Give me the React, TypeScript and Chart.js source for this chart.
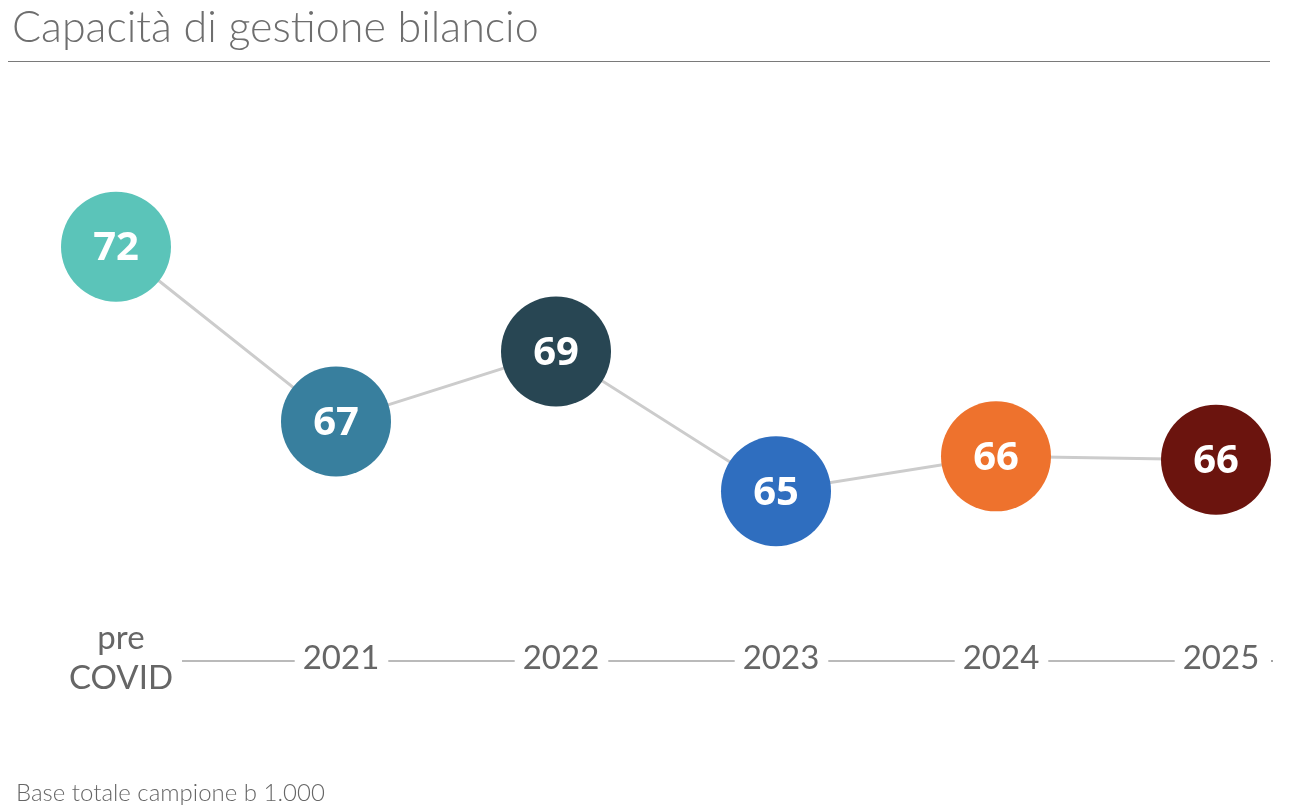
import React, { useEffect, useRef } from "react";
import { Chart, registerables } from "chart.js";

Chart.register(...registerables);

const categories: (string | string[])[] = [["pre", "COVID"], "2021", "2022", "2023", "2024", "2025"];
const values: number[] = [72, 67, 69, 65, 66, 65.9];
const valueLabels: string[] = ["72", "67", "69", "65", "66", "66"];
const pointColors: string[] = ["#5BC4B9", "#387F9E", "#284653", "#2F6EBF", "#EE722D", "#6B140E"];

const TICK_FONT = "33px Lato";
const LABEL_SHIFT = 5;

const axisLinePlugin = {
  id: "axisLine",
  afterDraw(chart: any) {
    const { ctx, chartArea } = chart;
    const xs = chart.scales.x;
    const y = chartArea.bottom + 44;
    ctx.save();
    ctx.font = TICK_FONT;
    const bounds = categories.map((c, i) => {
      const lines = Array.isArray(c) ? c : [c];
      const w = Math.max(...lines.map((l) => ctx.measureText(l).width));
      const px = xs.getPixelForTick(i) + LABEL_SHIFT;
      return [px - w / 2, px + w / 2];
    });
    ctx.strokeStyle = "#A4A4A4";
    ctx.lineWidth = 1.5;
    ctx.beginPath();
    for (let i = 0; i < bounds.length - 1; i++) {
      ctx.moveTo(bounds[i][1] + 9, y);
      ctx.lineTo(bounds[i + 1][0] - 8, y);
    }
    ctx.stroke();
    ctx.fillStyle = "#A4A4A4";
    ctx.fillRect(chartArea.right + 55, y - 1, 2, 2);
    ctx.restore();
  },
};

const valueLabelPlugin = {
  id: "valueLabels",
  afterDatasetsDraw(chart: any) {
    const { ctx } = chart;
    const meta = chart.getDatasetMeta(0);
    ctx.save();
    ctx.fillStyle = "#FFFFFF";
    ctx.font = "700 40px 'Open Sans'";
    ctx.textAlign = "center";
    ctx.textBaseline = "middle";
    meta.data.forEach((el: any, i: number) => {
      ctx.fillText(valueLabels[i], el.x, el.y + 2);
    });
    ctx.restore();
  },
};

export default function App() {
  const ref = useRef<HTMLCanvasElement>(null);
  useEffect(() => {
    if (!ref.current) return;
    const chart = new Chart(ref.current, {
      type: "line",
      data: {
        labels: categories,
        datasets: [
          {
            data: values,
            borderColor: "#CCCCCC",
            borderWidth: 3,
            pointRadius: 55,
            pointHoverRadius: 55,
            pointBackgroundColor: pointColors,
            pointBorderWidth: 0,
            tension: 0,
            clip: false as any,
          },
        ],
      },
      options: {
        animation: false,
        responsive: false,
        maintainAspectRatio: false,
        layout: { padding: { left: 116, right: 98, top: 107, bottom: 71 } },
        plugins: { legend: { display: false }, tooltip: { enabled: false }, title: { display: false } },
        scales: {
          x: {
            offset: false,
            grid: { display: false, drawTicks: false },
            border: { display: false },
            ticks: {
              padding: 21,
              color: "#666666",
              font: { family: "Lato", size: 33, lineHeight: 40 / 33 },
              maxRotation: 0,
              autoSkip: false,
              crossAlign: "center",
              labelOffset: LABEL_SHIFT,
            } as any,
          },
          y: {
            display: false,
            min: 61.4,
            max: 76,
          },
        },
      },
      plugins: [axisLinePlugin, valueLabelPlugin],
    });
    return () => chart.destroy();
  }, []);

  return (
    <div style={{ position: "absolute", left: 0, top: 0, width: 1314, height: 810, background: "#fff" }}>
      <canvas ref={ref} width={1314} height={810} style={{ position: "absolute", left: 0, top: 0 }} />
      <div
        style={{
          position: "absolute",
          left: 12,
          top: 0,
          fontFamily: "Lato",
          fontWeight: 300,
          fontSize: 43,
          color: "#6E6E6E",
          whiteSpace: "nowrap",
        }}
      >
        Capacità di gestione bilancio
      </div>
      <div style={{ position: "absolute", left: 8, top: 61, width: 1262, height: 1, background: "#7A7A7A" }} />
      <div
        style={{
          position: "absolute",
          left: 16,
          top: 777,
          fontFamily: "Lato",
          fontWeight: 300,
          fontSize: 24,
          color: "#666666",
          whiteSpace: "nowrap",
        }}
      >
        Base totale campione b 1.000
      </div>
    </div>
  );
}
